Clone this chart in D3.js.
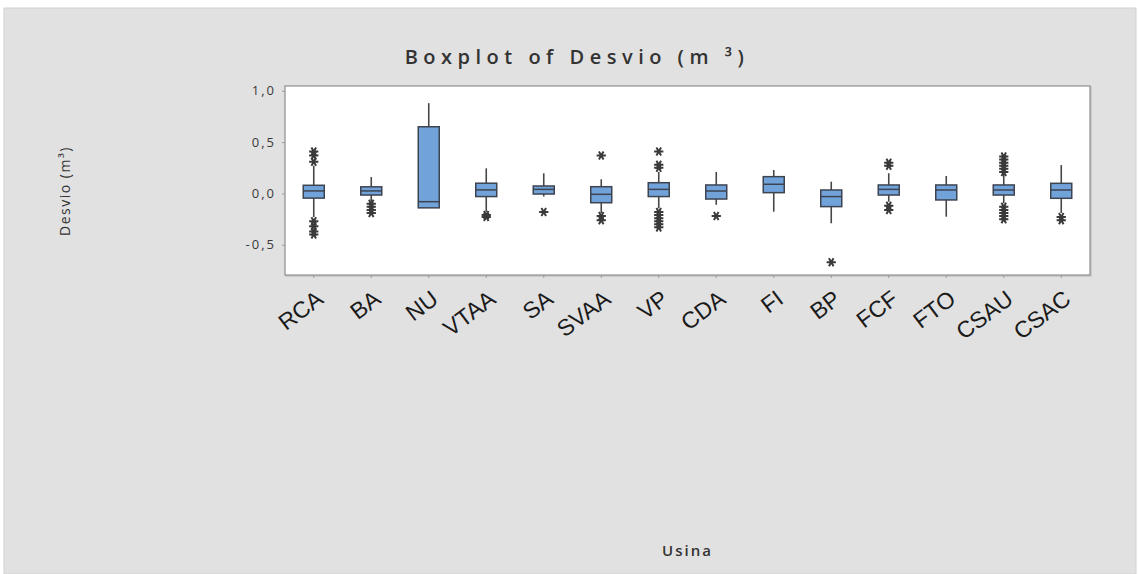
<!DOCTYPE html>
<html>
<head>
<meta charset="utf-8">
<script src="https://cdn.jsdelivr.net/npm/d3@7"></script>
<style>
  html, body { margin: 0; padding: 0; background: #ffffff; }
  svg { display: block; }
</style>
</head>
<body>
<svg id="chart" width="1138" height="574"></svg>
<script>
// Desvio (m³) per usina: five-number summaries plus outliers
const categories = ["RCA", "BA", "NU", "VTAA", "SA", "SVAA", "VP", "CDA", "FI", "BP", "FCF", "FTO", "CSAU", "CSAC"];
const whiskerLow  = [-0.23, -0.08, -0.14, -0.18, -0.03, -0.19, -0.145, -0.11, -0.177, -0.29, -0.08, -0.226, -0.095, -0.19];
const q1          = [-0.045, -0.015, -0.14, -0.03, -0.005, -0.09, -0.03, -0.054, 0.008, -0.128, -0.015, -0.063, -0.015, -0.047];
const median      = [0.025, 0.025, -0.08, 0.035, 0.04, -0.008, 0.04, 0.024, 0.09, -0.03, 0.04, 0.034, 0.034, 0.034];
const q3          = [0.08, 0.065, 0.65, 0.10, 0.073, 0.066, 0.105, 0.083, 0.164, 0.034, 0.083, 0.083, 0.083, 0.099];
const whiskerHigh = [0.27, 0.16, 0.88, 0.245, 0.197, 0.138, 0.21, 0.21, 0.229, 0.115, 0.197, 0.17, 0.19, 0.277];
const outliers = [
  [0.31, 0.37, 0.41, -0.27, -0.32, -0.37, -0.40],
  [-0.10, -0.13, -0.16, -0.19],
  [],
  [-0.21, -0.23],
  [-0.18],
  [0.37, -0.22, -0.26],
  [0.25, 0.28, 0.41, -0.18, -0.21, -0.24, -0.27, -0.30, -0.33],
  [-0.22],
  [],
  [-0.67],
  [0.27, 0.30, -0.12, -0.16],
  [],
  [0.21, 0.24, 0.27, 0.30, 0.33, 0.36, -0.13, -0.16, -0.19, -0.22, -0.25],
  [-0.23, -0.26]
];
const yTicks = [-0.5, 0, 0.5, 1.0];

const svg = d3.select("#chart");
const W = 1138, H = 574;
const plot = { left: 285, right: 1090, top: 86, bottom: 275 };

// panel background
svg.append("rect").attr("x", 4).attr("y", 8).attr("width", W - 6).attr("height", H - 8)
  .attr("fill", "#e1e1e1").attr("stroke", "#d2d2d2").attr("stroke-width", 1);

const x = d3.scaleBand().domain(categories).range([plot.left, plot.right]).padding(0);
const y = d3.scaleLinear().domain([-0.794, 1.047]).range([plot.bottom, plot.top]);

// data region
svg.append("rect")
  .attr("x", plot.left + 1).attr("y", plot.top + 1)
  .attr("width", plot.right - plot.left).attr("height", plot.bottom - plot.top)
  .attr("fill", "none").attr("stroke", "#c4c4c4").attr("stroke-width", 1.5);
svg.append("rect")
  .attr("x", plot.left).attr("y", plot.top)
  .attr("width", plot.right - plot.left).attr("height", plot.bottom - plot.top)
  .attr("fill", "#ffffff").attr("stroke", "#8e8e8e").attr("stroke-width", 1.2);

// y axis (decimal comma, plain hyphen for negatives)
const fmt = v => d3.format(".1f")(v).replace(".", ",").replace("\u2212", "-");
const yAxis = d3.axisLeft(y).tickValues(yTicks).tickFormat(fmt).tickSize(3).tickPadding(6);
const gy = svg.append("g").attr("transform", `translate(${plot.left},0)`).call(yAxis);
gy.select(".domain").remove();
gy.selectAll(".tick line").attr("stroke", "#9a9a9a");
gy.selectAll(".tick text")
  .attr("fill", "#3a3a3a")
  .style("font-family", "'Open Sans', 'DejaVu Sans', sans-serif")
  .style("font-size", "13px")
  .style("letter-spacing", "2px");

// x axis
const xAxis = d3.axisBottom(x).tickSize(3).tickPadding(0);
const gx = svg.append("g").attr("transform", `translate(0,${plot.bottom})`).call(xAxis);
gx.select(".domain").remove();
gx.selectAll(".tick line").attr("stroke", "#9a9a9a");
gx.selectAll(".tick text")
  .attr("fill", "#1a1a1a")
  .attr("text-anchor", "end")
  .attr("transform", "translate(11,27) rotate(-37)")
  .attr("y", 0).attr("dy", 0)
  .style("font-family", "'Liberation Sans', Arial, sans-serif")
  .style("font-size", "23px");

// boxes
const boxW = 21;
const idx = d3.range(categories.length);
const g = svg.append("g");
const lineColor = "#474747";

g.selectAll("line.wh-hi").data(idx).join("line")
  .attr("class", "wh-hi")
  .attr("x1", i => x(categories[i]) + x.bandwidth() / 2)
  .attr("x2", i => x(categories[i]) + x.bandwidth() / 2)
  .attr("y1", i => y(q3[i])).attr("y2", i => y(whiskerHigh[i]))
  .attr("stroke", lineColor).attr("stroke-width", 1.6);
g.selectAll("line.wh-lo").data(idx).join("line")
  .attr("class", "wh-lo")
  .attr("x1", i => x(categories[i]) + x.bandwidth() / 2)
  .attr("x2", i => x(categories[i]) + x.bandwidth() / 2)
  .attr("y1", i => y(q1[i])).attr("y2", i => y(whiskerLow[i]))
  .attr("stroke", lineColor).attr("stroke-width", 1.6);

g.selectAll("rect.box").data(idx).join("rect")
  .attr("class", "box")
  .attr("x", i => x(categories[i]) + x.bandwidth() / 2 - boxW / 2)
  .attr("width", boxW)
  .attr("y", i => y(q3[i]))
  .attr("height", i => y(q1[i]) - y(q3[i]))
  .attr("fill", "#72a2da")
  .attr("stroke", "#3d4450").attr("stroke-width", 1.5);

g.selectAll("line.med").data(idx).join("line")
  .attr("class", "med")
  .attr("x1", i => x(categories[i]) + x.bandwidth() / 2 - boxW / 2)
  .attr("x2", i => x(categories[i]) + x.bandwidth() / 2 + boxW / 2)
  .attr("y1", i => y(median[i])).attr("y2", i => y(median[i]))
  .attr("stroke", "#3d4450").attr("stroke-width", 1.5);

// outlier markers
const pts = idx.flatMap(i => outliers[i].map(v => ({ c: categories[i], v })));
const star = d3.symbol().type(d3.symbolAsterisk).size(60);
g.selectAll("path.out").data(pts).join("path")
  .attr("class", "out")
  .attr("d", star)
  .attr("transform", d => `translate(${x(d.c) + x.bandwidth() / 2},${y(d.v)}) rotate(90)`)
  .attr("fill", "none").attr("stroke", "#3a3a3a").attr("stroke-width", 2);

// titles
svg.append("text")
  .attr("x", 577).attr("y", 64)
  .attr("text-anchor", "middle")
  .attr("fill", "#333333")
  .style("font-family", "'Open Sans', 'DejaVu Sans', sans-serif")
  .style("font-size", "20px").style("font-weight", "600")
  .style("letter-spacing", "5.5px")
  .text("Boxplot of Desvio (m ³)");

svg.append("text")
  .attr("transform", "translate(70,191) rotate(-90)")
  .attr("text-anchor", "middle")
  .attr("fill", "#333333")
  .style("font-family", "'Open Sans', 'DejaVu Sans', sans-serif")
  .style("font-size", "14px")
  .style("letter-spacing", "1.5px")
  .text("Desvio (m³)");

svg.append("text")
  .attr("x", (plot.left + plot.right) / 2).attr("y", 556)
  .attr("text-anchor", "middle")
  .attr("fill", "#333333")
  .style("font-family", "'Open Sans', 'DejaVu Sans', sans-serif")
  .style("font-size", "15px").style("font-weight", "600")
  .style("letter-spacing", "2px")
  .text("Usina");
</script>
</body>
</html>
